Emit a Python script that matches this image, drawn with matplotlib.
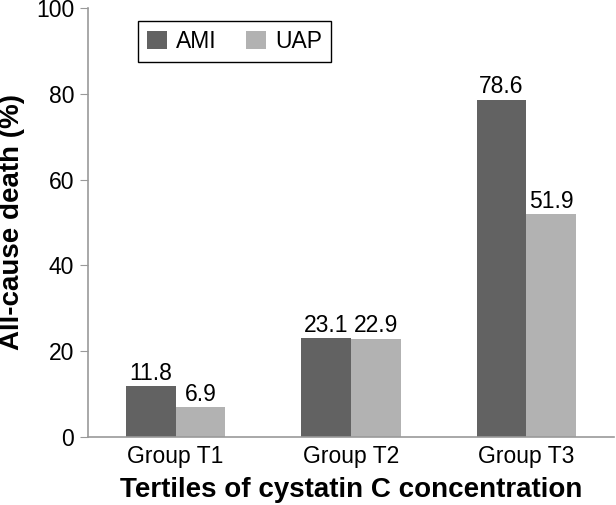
import matplotlib
matplotlib.use("Agg")
import matplotlib.pyplot as plt
import numpy as np

plt.rcParams['font.family'] = ['Liberation Sans', 'DejaVu Sans']

groups = ["Group T1", "Group T2", "Group T3"]
ami = [11.8, 23.1, 78.6]
uap = [6.9, 22.9, 51.9]
series_names = ["AMI", "UAP"]
yticks = [0, 20, 40, 60, 80, 100]

fig = plt.figure(figsize=(6.16, 5.05), dpi=100)
ax = fig.add_axes([88/616, 1-437/505, (614-88)/616, (437-8)/505])

x = np.arange(len(groups))
w = 0.283
c_dark = "#626262"
c_light = "#b2b2b2"
b1 = ax.bar(x - w/2, ami, w, color=c_dark, label=series_names[0])
b2 = ax.bar(x + w/2, uap, w, color=c_light, label=series_names[1])

for bars, vals in ((b1, ami), (b2, uap)):
    for rect, v in zip(bars, vals):
        ax.annotate(f"{v:.1f}", (rect.get_x() + rect.get_width()/2, v),
                    xytext=(0, 1), textcoords="offset points",
                    ha="center", va="bottom", fontsize=16.5)

ax.set_xlim(-0.5, 2.5)
ax.set_ylim(0, 100)
ax.set_yticks(yticks)
ax.set_xticks(x)
ax.set_xticklabels(groups, fontsize=16.5)
ax.tick_params(axis='x', length=0, pad=6)
ax.tick_params(axis='y', length=6, color="#999999", labelsize=16.5, pad=4)
for s in ("top", "right"):
    ax.spines[s].set_visible(False)
for s in ("left", "bottom"):
    ax.spines[s].set_color("#999999")
    ax.spines[s].set_linewidth(1.2)

ax.set_ylabel("All-cause death (%)", fontsize=20, fontweight="bold", labelpad=8)
ax.set_xlabel("Tertiles of cystatin C concentration", fontsize=20, fontweight="bold", labelpad=6)

leg = ax.legend(ncol=2, loc="upper left", bbox_to_anchor=((138-88)/526, (437-21)/429),
                fontsize=16.5, fancybox=False, edgecolor="black", framealpha=1,
                handlelength=0.85, handleheight=0.85, columnspacing=1.3,
                borderpad=0.4, handletextpad=0.4, borderaxespad=0)
leg.get_frame().set_linewidth(1.0)

fig.savefig("out.png", dpi=100)
